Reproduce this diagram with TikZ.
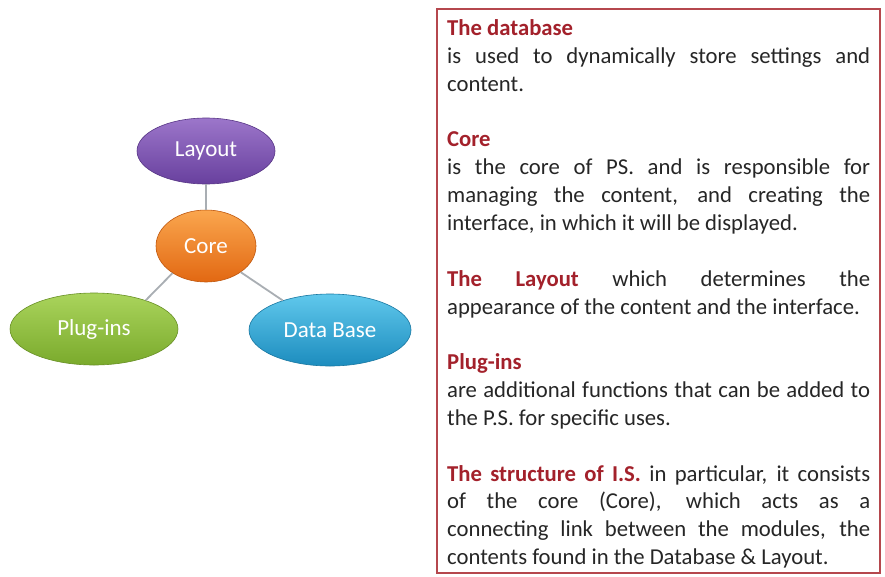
\documentclass[tikz,border=0pt]{standalone}
\usepackage{fontspec}
\setmainfont{Carlito}
\usetikzlibrary{shapes.geometric}
\definecolor{headred}{HTML}{A3212B}
\definecolor{boxred}{HTML}{B5474D}
\definecolor{bodytext}{HTML}{262626}
\definecolor{linkgray}{HTML}{A9AEB3}
\definecolor{layouttop}{RGB}{156,118,202}
\definecolor{layoutbot}{RGB}{104,64,158}
\definecolor{coretop}{RGB}{250,166,78}
\definecolor{corebot}{RGB}{226,104,18}
\definecolor{plugtop}{RGB}{170,212,92}
\definecolor{plugbot}{RGB}{122,170,44}
\definecolor{dbtop}{RGB}{96,200,236}
\definecolor{dbbot}{RGB}{28,140,190}
\newcommand\jl[1]{\hbox to\linewidth{#1}}
\newcommand\nl[1]{\hbox{#1}}
\newcommand\hd[1]{\textcolor{headred}{\textbf{#1}}}
\begin{document}
\begin{tikzpicture}[x=1pt,y=-1pt,
  bubble/.style n args={2}{ellipse, inner sep=0pt, text=white, font=\fontsize{23}{27}\selectfont,
     top color=#1, bottom color=#2, draw=#2!85!black, line width=0.6pt},
  link/.style={draw=linkgray, line width=1.8pt}]
\useasboundingbox (0,0) rectangle (885,576);
\fill[white] (0,0) rectangle (885,576);
% text box
\draw[boxred, line width=1.8pt] (437,9) rectangle (880,573);
\node[anchor=base west, inner sep=0pt, text=bodytext] (txt) at (447,35.5) {%
\begin{minipage}[t]{423pt}\fontsize{22.7}{27.85}\selectfont
\nl{\hd{The database}}
\jl{is used to dynamically store settings and}
\nl{content.}
\nl{}
\nl{\hd{Core}}
\jl{is the core of PS. and is responsible for}
\jl{managing the content, and creating the}
\nl{interface, in which it will be displayed.}
\nl{}
\jl{\hd{The} \hd{Layout} which determines the}
\nl{appearance of the content and the interface.}
\nl{}
\nl{\hd{Plug-ins}}
\jl{are additional functions that can be added to}
\nl{the P.S. for specific uses.}
\nl{}
\jl{\hd{The structure of I.S.} in particular, it consists}
\jl{of the core (Core), which acts as a}
\jl{connecting link between the modules, the}
\nl{contents found in the Database \& Layout.}
\end{minipage}};
% bubbles
\node[bubble={layouttop}{layoutbot}, minimum width=138pt, minimum height=66pt] (layout) at (206,151) {Layout};
\node[bubble={coretop}{corebot}, minimum width=100pt, minimum height=72pt] (core) at (206,246) {Core};
\node[bubble={plugtop}{plugbot}, minimum width=168pt, minimum height=72pt] (plug) at (94,329) {Plug-ins};
\node[bubble={dbtop}{dbbot}, minimum width=162pt, minimum height=72pt] (db) at (330,330) {Data Base};
% links
\path[link] (layout.south) -- (core.north);
\path[link] (core.219) -- (plug.29);
\path[link] (core.323) -- (db.148);
\end{tikzpicture}
\end{document}
